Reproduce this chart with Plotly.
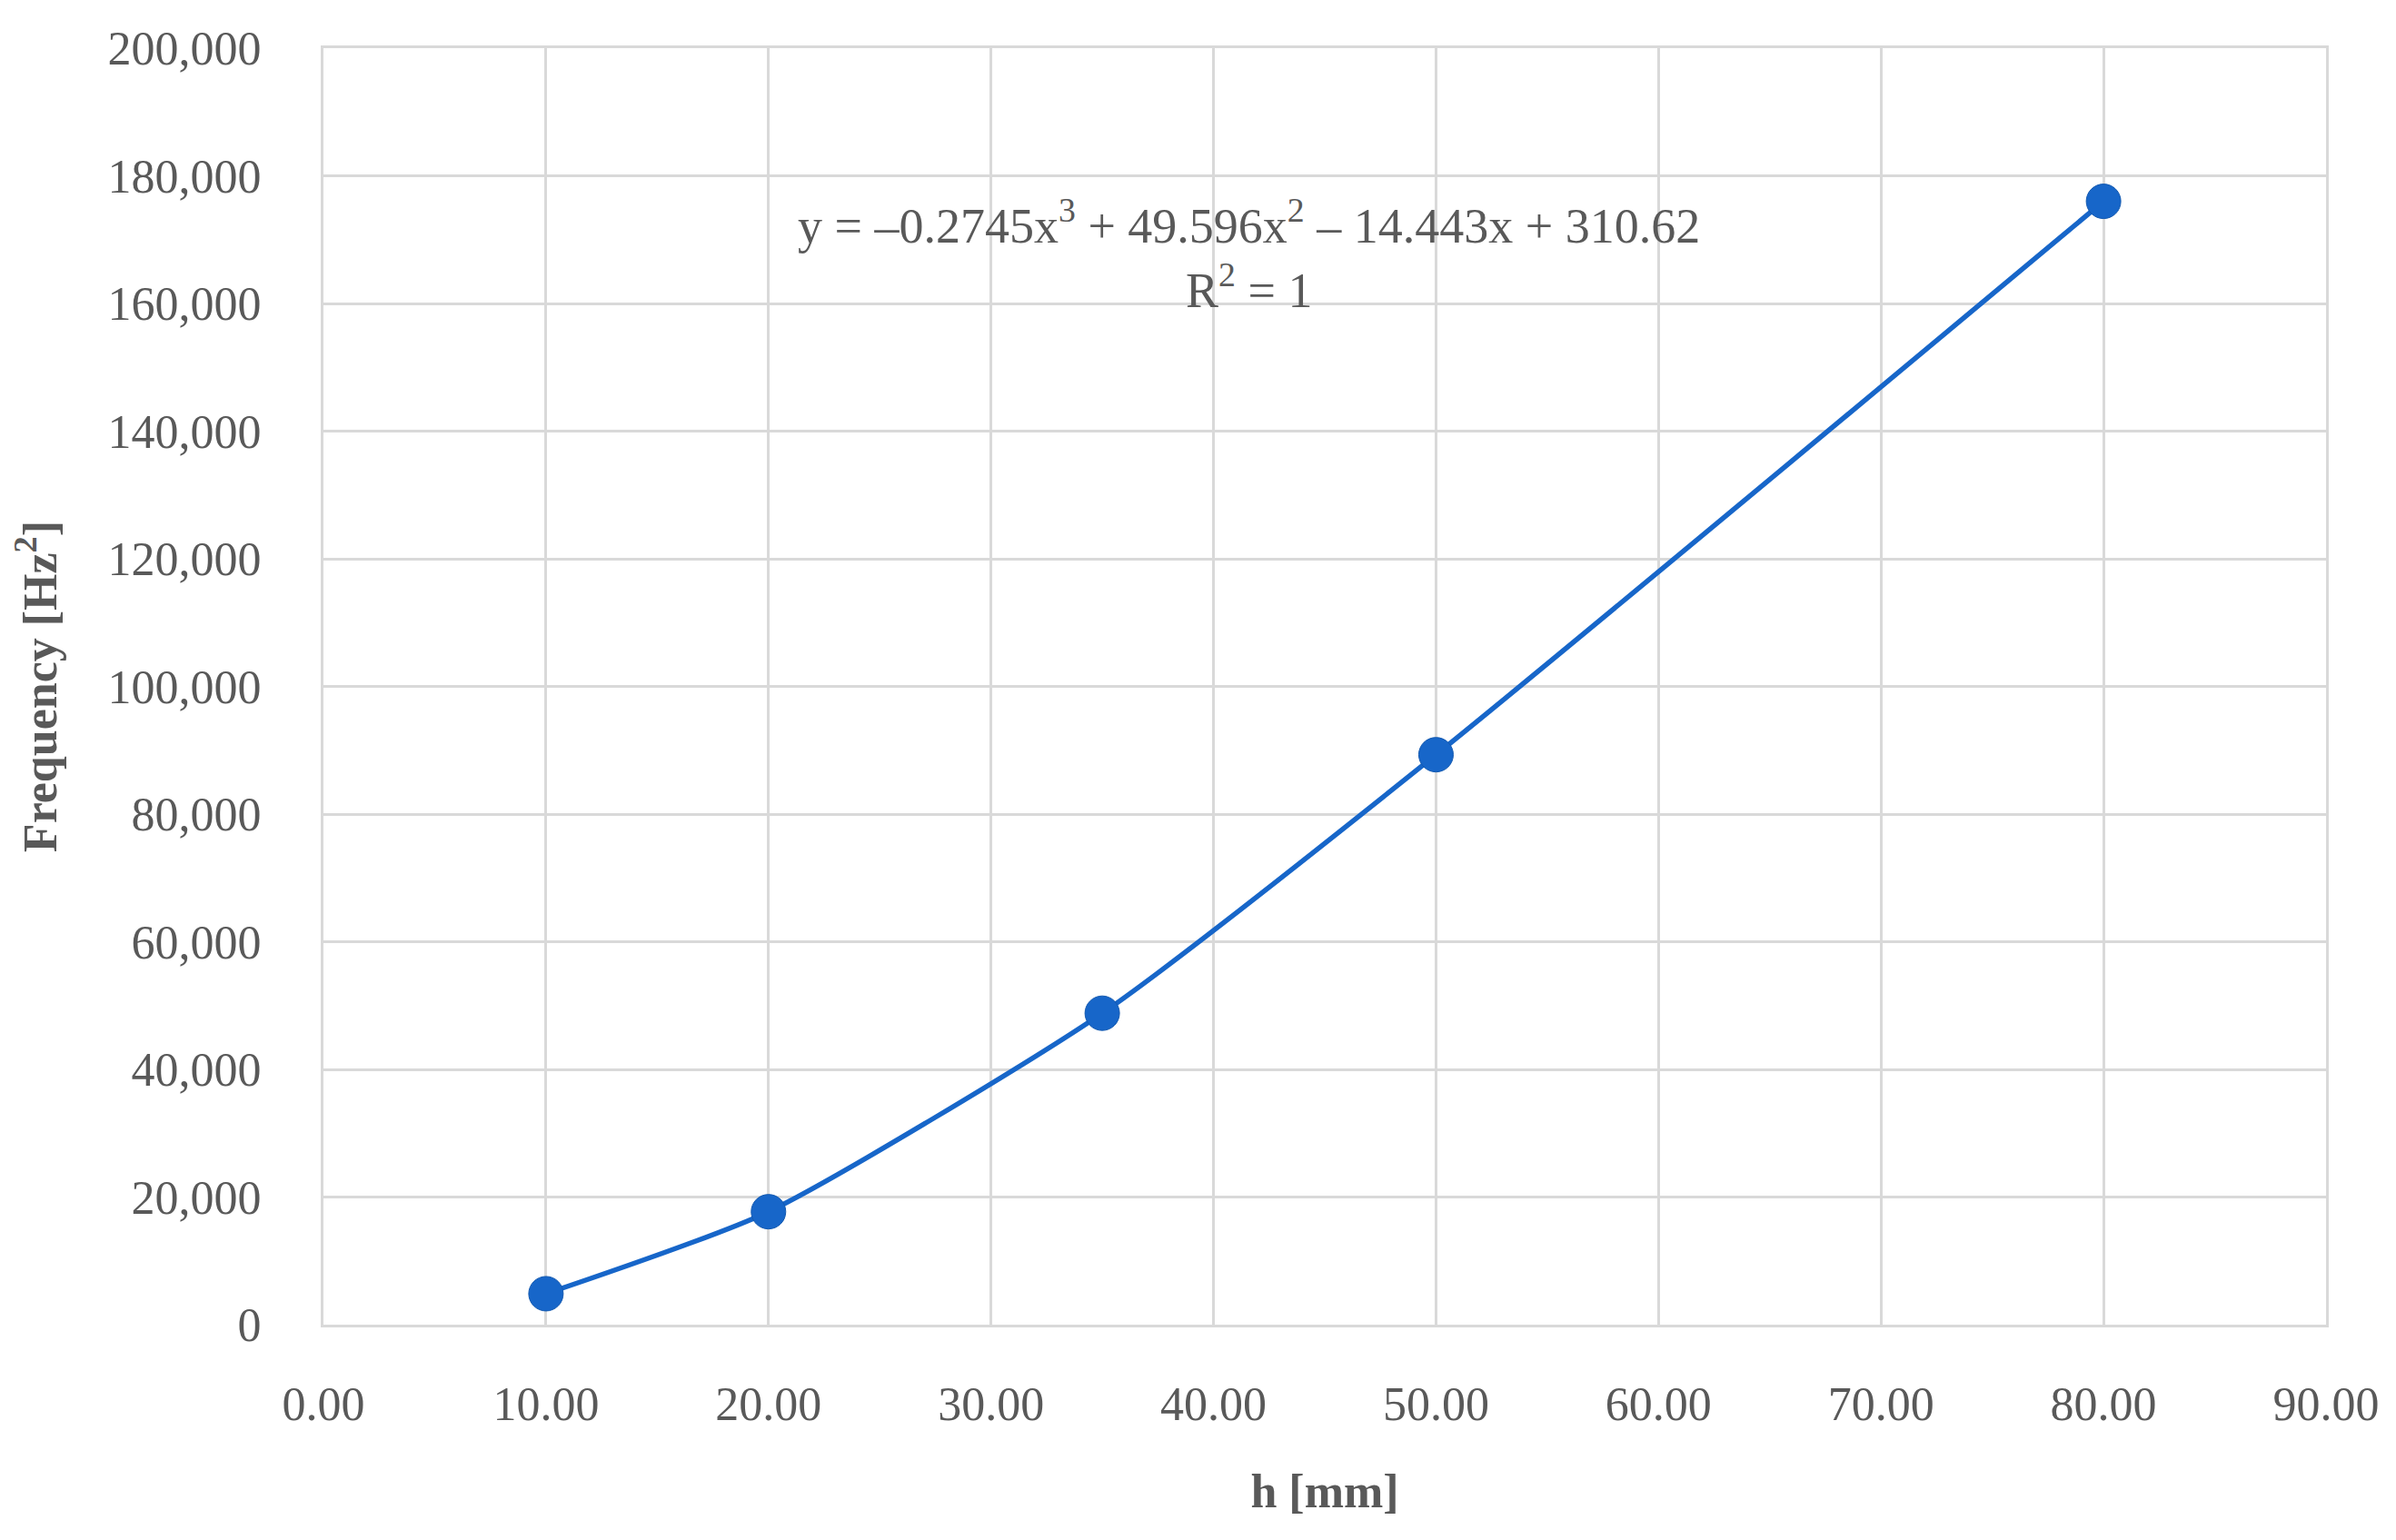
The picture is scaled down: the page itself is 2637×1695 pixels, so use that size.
import plotly.graph_objects as go

# measured points, h [mm] vs frequency squared [Hz^2]
h_mm = [10, 20, 35, 50, 80]
freq_sq = [4850, 17700, 48800, 89300, 176000]

equation_text = "y = \u20130.2745x<sup>3</sup> + 49.596x<sup>2</sup> \u2013 14.443x + 310.62"
r2_text = "R<sup>2</sup> = 1"

FONT = "Liberation Serif"
GREY = "#595959"
GRID = "#d9d9d9"
BLUE = "#1766c9"

fig = go.Figure()

# smoothed trend curve through the points
fig.add_trace(go.Scatter(
    x=h_mm, y=freq_sq,
    mode="lines",
    line=dict(color=BLUE, width=5.5, shape="spline", smoothing=0.6),
    hoverinfo="skip",
    showlegend=False,
))

fig.add_trace(go.Scatter(
    x=h_mm, y=freq_sq,
    mode="markers",
    marker=dict(size=38, color=BLUE, line=dict(color="#1359b0", width=1)),
    showlegend=False,
))

fig.add_annotation(
    x=41.6, y=172700, xref="x", yref="y",
    text=equation_text, showarrow=False,
    font=dict(family=FONT, size=54, color=GREY),
)
fig.add_annotation(
    x=41.6, y=162600, xref="x", yref="y",
    text=r2_text, showarrow=False,
    font=dict(family=FONT, size=54, color=GREY),
)

fig.update_layout(
    width=2637, height=1695,
    margin=dict(l=348, r=85, t=45, b=245),
    paper_bgcolor="white",
    plot_bgcolor="white",
    font=dict(family=FONT, size=52, color=GREY),
    xaxis=dict(
        range=[0, 90], dtick=10, tick0=0, tickformat=".2f",
        showgrid=True, gridcolor=GRID, gridwidth=3,
        showline=True, linecolor=GRID, linewidth=3, mirror=True,
        zeroline=False, ticks="", ticklabelstandoff=40,
        title=dict(text="<b>h [mm]</b>", standoff=50,
                   font=dict(family=FONT, size=52, color=GREY)),
    ),
    yaxis=dict(
        range=[0, 200000], dtick=20000, tickformat=",",
        showgrid=True, gridcolor=GRID, gridwidth=3,
        showline=True, linecolor=GRID, linewidth=3, mirror=True,
        zeroline=False, ticks="", ticklabelstandoff=55,
        title=dict(text="<b>Frequency [Hz<sup>2</sup>]</b>", standoff=40,
                   font=dict(family=FONT, size=52, color=GREY)),
    ),
)

fig.write_html("out.html")
